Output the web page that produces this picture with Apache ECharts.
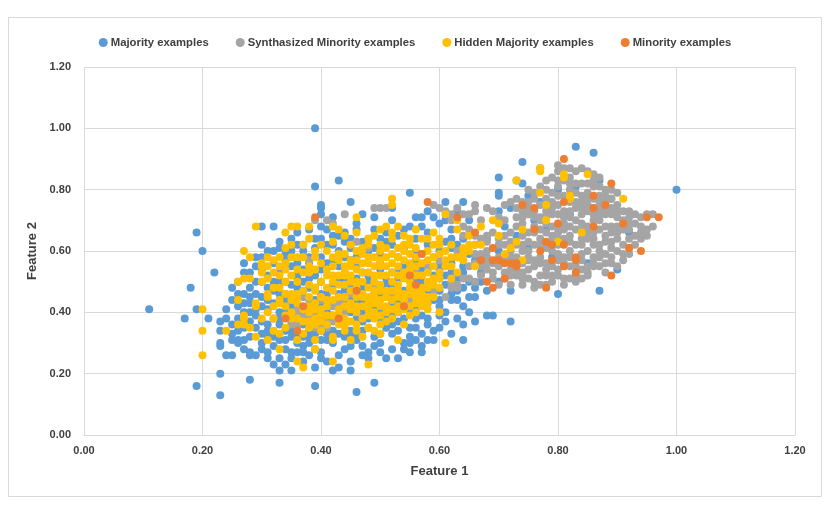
<!DOCTYPE html>
<html>
<head>
<meta charset="utf-8">
<script src="https://cdn.jsdelivr.net/npm/echarts/dist/echarts.min.js"></script>
<style>
  html, body { margin: 0; padding: 0; background: #fff; }
  #FeatureChart { width: 830px; height: 516px; }
</style>
</head>
<body>
<div id="FeatureChart"></div>
<script>
// values, [feature 1, feature 2]
var seriesNames = ['Majority examples', 'Synthasized Minority examples', 'Hidden Majority examples', 'Minority examples'];
var xTicks = ['0.00', '0.20', '0.40', '0.60', '0.80', '1.00', '1.20'];
var yTicks = ['0.00', '0.20', '0.40', '0.60', '0.80', '1.00', '1.20'];

var majority = [
    [0.42,0.71],[0.45,0.76],[0.49,0.71],[0.47,0.72],[0.40,0.72],[0.55,0.79],[0.52,0.74],[0.58,0.73],[0.61,0.76],[0.64,0.76],[0.57,0.71],
    [0.30,0.68],[0.32,0.68],[0.40,0.68],[0.49,0.67],[0.36,0.66],[0.38,0.67],[0.44,0.66],[0.46,0.67],[0.42,0.65],[0.43,0.65],[0.40,0.64],
    [0.51,0.66],[0.53,0.65],[0.55,0.68],[0.58,0.66],[0.60,0.69],[0.62,0.67],[0.48,0.64],[0.35,0.64],[0.56,0.64],
    [0.31,0.60],[0.32,0.60],[0.35,0.60],[0.34,0.59],[0.37,0.62],[0.39,0.61],[0.41,0.62],[0.43,0.60],[0.45,0.61],[0.47,0.63],[0.49,0.61],
    [0.50,0.59],[0.52,0.62],[0.54,0.61],[0.56,0.60],[0.58,0.62],[0.60,0.60],[0.62,0.61],[0.38,0.58],[0.44,0.58],[0.53,0.58],[0.63,0.58],
    [0.29,0.58],[0.33,0.61],
    [0.27,0.56],[0.28,0.53],[0.30,0.54],[0.32,0.56],[0.33,0.53],[0.35,0.55],[0.36,0.52],[0.38,0.56],[0.40,0.54],[0.42,0.57],[0.44,0.53],
    [0.46,0.55],[0.48,0.52],[0.50,0.56],[0.52,0.53],[0.54,0.55],[0.56,0.57],[0.58,0.54],[0.60,0.56],[0.62,0.53],[0.64,0.55],[0.66,0.57],
    [0.31,0.52],[0.37,0.54],[0.45,0.57],[0.57,0.52],
    [0.25,0.48],[0.27,0.46],[0.28,0.48],[0.29,0.46],[0.30,0.50],[0.31,0.48],[0.32,0.47],[0.33,0.50],[0.34,0.46],[0.35,0.49],[0.37,0.47],
    [0.38,0.51],[0.39,0.48],[0.41,0.46],[0.43,0.50],[0.44,0.47],[0.46,0.51],[0.47,0.48],[0.49,0.46],[0.51,0.49],[0.53,0.51],[0.55,0.47],
    [0.57,0.50],[0.59,0.47],[0.61,0.49],[0.63,0.47],[0.65,0.50],[0.26,0.50],[0.36,0.51],[0.52,0.46],[0.60,0.51],
    [0.24,0.41],[0.25,0.44],[0.26,0.42],[0.28,0.43],[0.29,0.41],[0.30,0.45],[0.31,0.41],[0.32,0.43],[0.33,0.40],[0.34,0.44],[0.35,0.42],
    [0.37,0.45],[0.38,0.41],[0.40,0.43],[0.41,0.40],[0.43,0.44],[0.44,0.41],[0.46,0.43],[0.47,0.40],[0.49,0.44],[0.50,0.41],[0.52,0.43],
    [0.53,0.40],[0.55,0.44],[0.56,0.41],[0.58,0.43],[0.60,0.42],[0.62,0.44],[0.64,0.42],[0.27,0.40],[0.36,0.40],[0.45,0.45],[0.57,0.45],
    [0.23,0.37],[0.23,0.34],[0.25,0.36],[0.26,0.38],[0.27,0.35],[0.29,0.39],[0.30,0.37],[0.31,0.34],[0.32,0.38],[0.33,0.36],[0.34,0.34],
    [0.35,0.39],[0.37,0.36],[0.38,0.34],[0.39,0.38],[0.41,0.35],[0.42,0.39],[0.44,0.36],[0.45,0.34],[0.46,0.38],[0.48,0.35],[0.50,0.38],
    [0.51,0.35],[0.53,0.37],[0.55,0.35],[0.56,0.38],[0.58,0.36],[0.60,0.39],[0.28,0.37],[0.40,0.34],[0.52,0.39],[0.47,0.37],
    [0.23,0.30],[0.23,0.29],[0.25,0.33],[0.26,0.31],[0.27,0.31],[0.26,0.30],[0.28,0.32],[0.30,0.30],[0.31,0.32],[0.32,0.29],[0.33,0.31],
    [0.34,0.28],[0.35,0.32],[0.36,0.30],[0.37,0.29],[0.38,0.32],[0.39,0.28],[0.40,0.31],[0.42,0.30],[0.43,0.33],[0.44,0.28],[0.46,0.31],
    [0.47,0.29],[0.49,0.32],[0.50,0.30],[0.52,0.33],[0.54,0.30],[0.56,0.31],[0.57,0.29],[0.58,0.31],[0.62,0.33],[0.64,0.31],[0.41,0.33],
    [0.45,0.33],
    [0.24,0.26],[0.25,0.26],[0.28,0.27],[0.28,0.26],[0.29,0.26],[0.33,0.21],[0.34,0.23],[0.35,0.21],[0.35,0.25],[0.37,0.24],[0.38,0.26],
    [0.41,0.24],[0.42,0.21],[0.43,0.22],[0.45,0.21],[0.45,0.24],[0.47,0.26],[0.48,0.25],[0.50,0.27],[0.51,0.25],[0.53,0.25],[0.55,0.27],
    [0.40,0.27],[0.36,0.27],[0.31,0.27],[0.23,0.20],[0.39,0.22],
    [0.19,0.16],[0.23,0.13],[0.28,0.18],[0.33,0.17],[0.39,0.16],[0.46,0.14],[0.49,0.17],[0.11,0.41],[0.17,0.38],[0.18,0.48],[0.19,0.66],
    [0.19,0.41],[0.20,0.60],[0.21,0.38],[0.22,0.53],[0.39,1.00],[0.39,0.81],[0.43,0.83],[0.40,0.75],[0.40,0.74],
    [0.66,0.37],[0.68,0.39],[0.69,0.39],[0.72,0.37],[0.66,0.45],[0.68,0.47],[0.70,0.50],[0.72,0.47],[0.74,0.52],[0.67,0.53],[0.70,0.60],
    [0.66,0.62],[0.68,0.64],[0.70,0.73],[0.70,0.78],[0.70,0.79],[0.73,0.83],[0.74,0.82],[0.74,0.89],[0.77,0.87],[0.70,0.84],[0.75,0.78],
    [0.77,0.76],[0.72,0.74],[0.76,0.70],[0.80,0.46],[0.87,0.47],[0.85,0.56],[0.90,0.54],[0.92,0.66],[0.89,0.77],[0.83,0.81],[0.87,0.83],
    [0.83,0.94],[0.86,0.92],[1.00,0.80],[0.80,0.80],[0.78,0.67],[0.82,0.72],[0.79,0.58],[0.75,0.61],[0.73,0.65],[0.71,0.68],[0.64,0.64],
    [0.65,0.70],[0.63,0.73],
    [0.26,0.34],[0.27,0.43],[0.28,0.45],[0.29,0.35],[0.29,0.50],[0.30,0.42],[0.30,0.33],[0.31,0.36],[0.31,0.44],[0.32,0.50],[0.32,0.32],
    [0.33,0.46],[0.33,0.38],[0.34,0.40],[0.34,0.31],[0.34,0.50],[0.35,0.44],[0.35,0.34],[0.36,0.48],[0.36,0.33],[0.36,0.56],[0.37,0.50],
    [0.37,0.32],[0.38,0.38],[0.38,0.48],[0.38,0.30],[0.39,0.44],[0.39,0.52],[0.39,0.33],[0.40,0.50],[0.40,0.46],[0.40,0.58],[0.41,0.31],
    [0.41,0.56],[0.42,0.34],[0.42,0.49],[0.42,0.62],[0.43,0.38],[0.43,0.46],[0.43,0.55],[0.44,0.32],[0.44,0.50],[0.44,0.63],[0.45,0.40],
    [0.45,0.48],[0.45,0.29],[0.46,0.33],[0.46,0.58],[0.47,0.44],[0.47,0.53],[0.47,0.34],[0.48,0.38],[0.48,0.50],[0.48,0.60],[0.49,0.29],
    [0.49,0.41],[0.50,0.33],[0.50,0.46],[0.50,0.54],[0.51,0.38],[0.51,0.51],[0.51,0.63],[0.52,0.36],[0.52,0.48],[0.53,0.34],[0.53,0.43],
    [0.53,0.53],[0.54,0.38],[0.54,0.47],[0.54,0.28],[0.55,0.41],[0.55,0.53],[0.55,0.32],[0.56,0.44],[0.56,0.35],[0.56,0.50],[0.57,0.39],
    [0.57,0.54],[0.57,0.33],[0.58,0.47],[0.58,0.38],[0.59,0.44],[0.59,0.52],[0.59,0.58],[0.59,0.34],[0.60,0.47],[0.60,0.54],[0.60,0.44],
    [0.61,0.40],[0.61,0.52],[0.61,0.63],[0.62,0.46],[0.62,0.56],[0.63,0.44],[0.63,0.51],[0.63,0.62],[0.64,0.48],[0.64,0.53],[0.65,0.45],
    [0.65,0.59],[0.66,0.48],[0.67,0.50],[0.60,0.35],[0.59,0.31],[0.61,0.37],[0.63,0.38],[0.65,0.40],[0.64,0.36],[0.55,0.30],[0.57,0.27],
    [0.52,0.28],[0.48,0.27],[0.43,0.26],[0.40,0.25],[0.37,0.27],[0.33,0.25],[0.31,0.25],[0.30,0.28],[0.27,0.28],[0.25,0.31],[0.24,0.38],
    [0.26,0.46],[0.28,0.40],[0.27,0.53],[0.29,0.55],[0.30,0.58],[0.30,0.62],[0.33,0.63],[0.34,0.57],[0.36,0.62],[0.37,0.60],[0.39,0.64],
    [0.41,0.67],[0.45,0.64],[0.46,0.69],[0.50,0.64],[0.52,0.70],[0.54,0.67],[0.56,0.71],[0.57,0.68],[0.59,0.71],[0.61,0.70],[0.62,0.64],
    [0.35,0.27],[0.32,0.23]
];

var synthesized = [
    [0.35,0.37],[0.35,0.36],[0.36,0.40],[0.36,0.36],[0.37,0.39],[0.37,0.40],[0.38,0.39],[0.39,0.40],[0.40,0.39],[0.41,0.38],[0.39,0.35],
    [0.41,0.35],[0.40,0.36],[0.42,0.42],[0.43,0.43],[0.44,0.44],[0.45,0.46],[0.40,0.44],[0.38,0.44],[0.37,0.45],[0.38,0.57],[0.36,0.41],
    [0.42,0.37],[0.44,0.40],
    [0.39,0.70],[0.41,0.70],[0.42,0.69],[0.44,0.72],[0.49,0.74],[0.50,0.74],[0.51,0.74],[0.46,0.63],[0.48,0.61],[0.49,0.49],[0.48,0.44],
    [0.50,0.47],[0.52,0.46],[0.53,0.47],[0.51,0.45],[0.55,0.44],[0.57,0.46],[0.59,0.47],[0.61,0.45],[0.62,0.48],[0.63,0.49],[0.62,0.50],
    [0.63,0.60],[0.59,0.75],[0.60,0.74],[0.61,0.73],[0.62,0.72],[0.58,0.55],[0.56,0.54],[0.60,0.57],
    [0.62,0.70],[0.64,0.68],[0.64,0.65],[0.65,0.67],[0.66,0.65],[0.67,0.64],[0.68,0.63],[0.70,0.62],[0.71,0.62],[0.67,0.59],[0.68,0.60],
    [0.65,0.55],[0.66,0.56],[0.65,0.51],[0.64,0.51],[0.63,0.48],[0.66,0.50],[0.67,0.52],[0.68,0.54],[0.69,0.53],[0.70,0.55],[0.71,0.53],
    [0.72,0.54],[0.73,0.54],[0.74,0.53],[0.69,0.51],[0.70,0.49],[0.72,0.49],[0.66,0.75],[0.66,0.73],[0.68,0.74],[0.69,0.73],[0.71,0.75],
    [0.72,0.76],[0.73,0.77],[0.70,0.64],[0.69,0.66],[0.68,0.58],[0.69,0.56],[0.67,0.55],[0.64,0.57],[0.66,0.59],
    [0.75,0.51],[0.76,0.50],[0.77,0.49],[0.78,0.49],[0.79,0.50],[0.81,0.49],[0.82,0.51],[0.84,0.51],[0.80,0.52],[0.74,0.49],[0.76,0.48],
    [0.83,0.50],[0.85,0.52],[0.78,0.52],
    [0.75,0.57],[0.76,0.55],[0.77,0.56],[0.78,0.54],[0.79,0.55],[0.80,0.57],[0.81,0.58],[0.82,0.55],[0.84,0.54],[0.85,0.53],[0.86,0.55],
    [0.86,0.56],[0.87,0.58],[0.88,0.53],[0.89,0.58],[0.90,0.55],[0.84,0.57],[0.75,0.54],[0.77,0.58],[0.80,0.54],[0.88,0.56],[0.91,0.57],
    [0.74,0.60],[0.75,0.60],[0.76,0.62],[0.77,0.64],[0.78,0.61],[0.80,0.59],[0.80,0.62],[0.82,0.60],[0.83,0.62],[0.84,0.64],[0.85,0.60],
    [0.86,0.62],[0.87,0.60],[0.88,0.63],[0.89,0.61],[0.90,0.64],[0.91,0.59],[0.92,0.61],[0.93,0.62],[0.94,0.64],[0.72,0.60],[0.73,0.62],
    [0.79,0.63],[0.81,0.64],[0.86,0.64],[0.91,0.62],
    [0.72,0.66],[0.73,0.68],[0.74,0.69],[0.75,0.66],[0.76,0.68],[0.77,0.70],[0.78,0.66],[0.79,0.68],[0.80,0.66],[0.81,0.69],[0.82,0.65],
    [0.83,0.67],[0.84,0.69],[0.85,0.66],[0.86,0.70],[0.87,0.67],[0.88,0.65],[0.89,0.68],[0.90,0.66],[0.91,0.70],[0.92,0.67],[0.93,0.69],
    [0.94,0.66],[0.95,0.67],[0.96,0.68],[0.87,0.70],[0.79,0.65],[0.83,0.70],
    [0.73,0.71],[0.74,0.73],[0.75,0.72],[0.76,0.71],[0.77,0.71],[0.78,0.73],[0.79,0.74],[0.80,0.72],[0.81,0.73],[0.82,0.71],[0.83,0.74],
    [0.84,0.72],[0.85,0.73],[0.85,0.75],[0.86,0.72],[0.87,0.74],[0.88,0.72],[0.89,0.74],[0.90,0.71],[0.91,0.73],[0.92,0.73],[0.93,0.72],
    [0.95,0.72],[0.96,0.72],[0.83,0.76],[0.80,0.75],[0.77,0.75],[0.88,0.76],[0.90,0.75],
    [0.75,0.80],[0.76,0.79],[0.77,0.81],[0.78,0.83],[0.79,0.84],[0.79,0.79],[0.80,0.88],[0.80,0.81],[0.81,0.87],[0.82,0.87],[0.82,0.80],
    [0.83,0.79],[0.83,0.86],[0.84,0.87],[0.84,0.82],[0.85,0.86],[0.85,0.79],[0.86,0.85],[0.86,0.81],[0.87,0.78],[0.88,0.80],[0.88,0.78],
    [0.89,0.80],[0.90,0.79],[0.81,0.83],[0.84,0.78],[0.87,0.84],
    [0.74,0.51],[0.77,0.52],[0.79,0.52],[0.81,0.51],[0.83,0.52],[0.74,0.56],[0.76,0.57],[0.78,0.56],[0.81,0.56],[0.83,0.55],[0.85,0.55],
    [0.87,0.55],[0.89,0.56],[0.73,0.58],[0.75,0.58],[0.79,0.60],[0.82,0.58],[0.84,0.59],[0.86,0.58],[0.88,0.59],[0.90,0.60],[0.92,0.59],
    [0.74,0.62],[0.75,0.63],[0.77,0.62],[0.80,0.64],[0.82,0.63],[0.84,0.62],[0.85,0.64],[0.87,0.62],[0.89,0.63],[0.92,0.64],[0.93,0.65],
    [0.74,0.65],[0.76,0.66],[0.77,0.67],[0.78,0.69],[0.80,0.68],[0.81,0.67],[0.82,0.68],[0.84,0.67],[0.85,0.68],[0.86,0.66],[0.88,0.68],
    [0.89,0.66],[0.90,0.68],[0.91,0.67],[0.92,0.69],[0.94,0.68],[0.95,0.65],[0.74,0.71],[0.75,0.74],[0.76,0.73],[0.78,0.71],[0.79,0.72],
    [0.81,0.71],[0.82,0.73],[0.84,0.74],[0.86,0.74],[0.87,0.72],[0.88,0.74],[0.89,0.72],[0.90,0.73],[0.92,0.71],[0.94,0.71],[0.76,0.77],
    [0.78,0.77],[0.79,0.76],[0.81,0.78],[0.82,0.76],[0.84,0.76],[0.85,0.77],[0.86,0.77],[0.87,0.76],[0.89,0.77],[0.80,0.78],[0.78,0.80],
    [0.80,0.83],[0.82,0.84],[0.83,0.82],[0.85,0.82],[0.86,0.83],[0.87,0.81],[0.82,0.82],[0.80,0.86],[0.68,0.56],[0.71,0.57],[0.72,0.58],
    [0.70,0.58],[0.71,0.51],[0.73,0.52],[0.72,0.52],[0.68,0.65],[0.71,0.65],[0.72,0.63],[0.71,0.70],[0.70,0.71],[0.73,0.74],[0.74,0.76],
    [0.75,0.76],[0.67,0.70],[0.65,0.72],[0.63,0.74],[0.64,0.72]
];

var hiddenMajority = [
    [0.20,0.41],[0.20,0.34],[0.20,0.26],[0.24,0.34],[0.26,0.44],[0.26,0.36],[0.27,0.36],[0.27,0.38],[0.27,0.39],[0.29,0.32],[0.31,0.31],
    [0.33,0.28],[0.36,0.24],[0.37,0.22],[0.39,0.28],[0.42,0.24],[0.48,0.23],[0.53,0.31],[0.61,0.30],[0.60,0.40],[0.29,0.68],[0.34,0.66],
    [0.35,0.68],[0.36,0.68],[0.38,0.68],[0.42,0.68],[0.43,0.67],[0.46,0.71],[0.51,0.68],[0.53,0.68],[0.52,0.77],[0.52,0.75],[0.61,0.72],
    [0.63,0.70],
    [0.26,0.50],[0.27,0.51],[0.28,0.51],[0.30,0.50],[0.27,0.60],[0.28,0.58],[0.30,0.56],[0.30,0.55],[0.31,0.55],[0.32,0.57],[0.33,0.55],
    [0.34,0.54],[0.31,0.46],[0.31,0.45],[0.29,0.43],[0.29,0.42],[0.32,0.42],[0.33,0.43],[0.34,0.42],[0.32,0.38],[0.32,0.34],[0.34,0.35],
    [0.35,0.38],[0.38,0.35],[0.40,0.34],[0.42,0.32],[0.42,0.31],[0.44,0.34],[0.47,0.32],[0.48,0.35],[0.37,0.62],[0.40,0.62],[0.35,0.58],
    [0.36,0.58],[0.37,0.58],[0.39,0.58],[0.41,0.60],[0.42,0.58],[0.43,0.59],[0.44,0.59],[0.48,0.64],[0.48,0.62],[0.48,0.58],[0.45,0.57],
    [0.34,0.46],[0.35,0.46],[0.36,0.46],[0.38,0.45],[0.39,0.47],[0.39,0.48],[0.41,0.52],[0.42,0.52],[0.43,0.52],[0.44,0.52],[0.44,0.53],
    [0.41,0.48],[0.44,0.45],[0.46,0.45],[0.47,0.45],[0.48,0.45],[0.49,0.52],[0.50,0.52],[0.48,0.53],[0.36,0.43],[0.37,0.41],[0.38,0.42],
    [0.39,0.43],[0.40,0.41],[0.41,0.42],[0.42,0.44],[0.43,0.41],[0.44,0.42],[0.45,0.43],[0.46,0.40],[0.47,0.42],[0.48,0.41],[0.49,0.43],
    [0.50,0.44],[0.51,0.42],[0.52,0.44],[0.53,0.45],[0.54,0.44],[0.55,0.46],[0.56,0.45],[0.57,0.44],[0.58,0.45],[0.35,0.40],[0.37,0.37],
    [0.39,0.38],[0.40,0.37],[0.41,0.36],[0.43,0.36],[0.44,0.38],[0.45,0.37],[0.46,0.36],[0.49,0.38],[0.50,0.36],[0.52,0.38],[0.53,0.40],
    [0.55,0.39],[0.56,0.40],[0.58,0.41],[0.42,0.47],[0.43,0.49],[0.45,0.50],[0.46,0.48],[0.47,0.50],[0.49,0.47],[0.50,0.49],[0.51,0.47],
    [0.52,0.50],[0.53,0.49],[0.54,0.51],[0.55,0.50],[0.56,0.52],[0.57,0.48],[0.58,0.50],[0.59,0.49],[0.60,0.51],[0.45,0.55],[0.46,0.54],
    [0.47,0.56],[0.49,0.55],[0.50,0.57],[0.51,0.55],[0.52,0.56],[0.53,0.55],[0.54,0.57],[0.55,0.56],[0.56,0.58],[0.57,0.56],[0.58,0.57],
    [0.59,0.55],[0.50,0.60],[0.51,0.61],[0.52,0.59],[0.53,0.61],[0.54,0.60],[0.55,0.62],[0.56,0.61],[0.58,0.60],[0.59,0.62],[0.60,0.59],
    [0.46,0.60],[0.47,0.59],[0.49,0.65],[0.54,0.65],[0.57,0.64],[0.59,0.66],[0.56,0.67],[0.60,0.64],[0.61,0.57],[0.61,0.60],[0.62,0.58],
    [0.63,0.58],[0.64,0.61],[0.64,0.57],[0.63,0.53],[0.62,0.51],[0.61,0.55],[0.66,0.62],[0.67,0.62],[0.65,0.65],[0.63,0.67],[0.66,0.55],
    [0.67,0.68],[0.69,0.70],[0.70,0.69],[0.70,0.65],[0.73,0.63],[0.72,0.61],[0.71,0.59],[0.74,0.57],[0.74,0.67],[0.78,0.75],[0.78,0.70],
    [0.77,0.79],[0.77,0.87],[0.77,0.86],[0.73,0.83],[0.81,0.85],[0.81,0.84],[0.85,0.85],[0.82,0.78],[0.82,0.77],[0.84,0.66],[0.80,0.63],
    [0.91,0.77],
    [0.33,0.44],[0.33,0.48],[0.34,0.50],[0.35,0.44],[0.35,0.52],[0.36,0.38],[0.36,0.50],[0.37,0.47],[0.37,0.53],[0.38,0.40],[0.38,0.49],
    [0.38,0.53],[0.39,0.36],[0.39,0.41],[0.39,0.54],[0.40,0.39],[0.40,0.45],[0.40,0.50],[0.40,0.56],[0.41,0.44],[0.41,0.54],[0.42,0.39],
    [0.42,0.50],[0.42,0.55],[0.43,0.39],[0.43,0.45],[0.43,0.57],[0.44,0.49],[0.44,0.55],[0.45,0.41],[0.45,0.47],[0.45,0.52],[0.46,0.42],
    [0.46,0.50],[0.46,0.57],[0.47,0.38],[0.47,0.46],[0.47,0.53],[0.48,0.39],[0.48,0.43],[0.48,0.48],[0.48,0.56],[0.49,0.40],[0.49,0.45],
    [0.49,0.50],[0.49,0.58],[0.50,0.39],[0.50,0.42],[0.50,0.47],[0.50,0.55],[0.51,0.40],[0.51,0.45],[0.51,0.52],[0.51,0.58],[0.52,0.41],
    [0.52,0.47],[0.52,0.53],[0.53,0.42],[0.53,0.47],[0.53,0.52],[0.53,0.58],[0.54,0.41],[0.54,0.46],[0.54,0.53],[0.54,0.62],[0.55,0.42],
    [0.55,0.48],[0.55,0.54],[0.55,0.59],[0.56,0.43],[0.56,0.47],[0.56,0.55],[0.57,0.42],[0.57,0.46],[0.57,0.52],[0.57,0.59],[0.58,0.43],
    [0.58,0.48],[0.58,0.53],[0.59,0.45],[0.59,0.51],[0.59,0.58],[0.60,0.48],[0.60,0.53],[0.60,0.62],[0.34,0.39],[0.36,0.45],[0.38,0.37],
    [0.41,0.39],[0.44,0.36],[0.46,0.34],[0.49,0.34],[0.51,0.37],[0.54,0.36],[0.32,0.48],[0.31,0.51],[0.33,0.52],[0.30,0.53],[0.32,0.53],
    [0.35,0.62],[0.39,0.60],[0.45,0.62],[0.47,0.61],[0.50,0.62],[0.52,0.64],[0.55,0.64],[0.58,0.64],[0.62,0.62],[0.62,0.55],[0.64,0.59],
    [0.65,0.60],[0.65,0.62],[0.38,0.64],[0.42,0.63],[0.44,0.65],[0.46,0.66],[0.50,0.67],[0.52,0.66],[0.31,0.40],[0.30,0.38],[0.28,0.35],
    [0.33,0.33],[0.36,0.31],[0.39,0.31],[0.45,0.31],[0.50,0.33],[0.37,0.33],[0.36,0.54],[0.38,0.55],[0.34,0.56],[0.33,0.58],[0.31,0.58],
    [0.34,0.61]
];

var minority = [
    [0.34,0.38],[0.36,0.34],[0.37,0.42],[0.39,0.71],[0.43,0.38],[0.46,0.47],[0.54,0.42],[0.55,0.52],[0.56,0.49],[0.57,0.59],[0.58,0.76],
    [0.63,0.71],[0.66,0.66],[0.67,0.57],[0.68,0.50],[0.69,0.61],[0.69,0.57],[0.69,0.48],[0.70,0.57],[0.71,0.56],[0.71,0.51],[0.72,0.56],
    [0.73,0.55],[0.73,0.56],[0.74,0.75],[0.76,0.74],[0.76,0.67],[0.77,0.60],[0.78,0.63],[0.78,0.48],[0.79,0.62],[0.79,0.57],[0.80,0.69],
    [0.81,0.90],[0.81,0.76],[0.81,0.62],[0.81,0.55],[0.83,0.58],[0.83,0.57],[0.83,0.53],[0.86,0.78],[0.86,0.74],[0.86,0.68],[0.88,0.75],
    [0.89,0.82],[0.89,0.52],[0.91,0.69],[0.92,0.61],[0.94,0.60],[0.95,0.71],[0.97,0.71]
];

var FeatureChart = echarts.init(document.getElementById('FeatureChart'));
var fontFamily = '"Liberation Sans Narrow", "Liberation Sans", sans-serif';
var colors = ['#5B9BD5', '#A5A5A5', '#FFC000', '#ED7D31'];
var allData = [majority, synthesized, hiddenMajority, minority];

var seriesList = [];
for (var i = 0; i < seriesNames.length; i++) {
    seriesList.push({
        name: seriesNames[i],
        type: 'scatter',
        symbol: 'circle',
        symbolSize: 8,
        itemStyle: { color: colors[i], opacity: 1 },
        data: allData[i]
    });
}

var optionFeature = {
    animation: false,
    backgroundColor: '#fff',
    color: colors,
    graphic: [
        {
            type: 'rect',
            shape: { x: 8.5, y: 17.5, width: 813, height: 479 },
            style: { fill: 'none', stroke: '#D9D9D9', lineWidth: 1 },
            silent: true
        }
    ],
    legend: {
        top: 32,
        left: 'center',
        icon: 'circle',
        itemWidth: 9,
        itemHeight: 9,
        itemGap: 27,
        textStyle: {
            fontFamily: fontFamily,
            fontWeight: 'bold',
            fontSize: 11.3,
            color: '#404040',
            padding: [0, 0, 0, -2]
        },
        data: seriesNames
    },
    grid: {
        left: 84,
        right: 35,
        top: 67,
        bottom: 81
    },
    xAxis: {
        type: 'value',
        min: 0,
        max: 1.2,
        interval: 0.2,
        name: 'Feature 1',
        nameLocation: 'middle',
        nameGap: 30,
        nameTextStyle: { fontFamily: fontFamily, fontWeight: 'bold', fontSize: 13, color: '#404040' },
        axisLine: { show: true, lineStyle: { color: '#D9D9D9' } },
        axisTick: { show: false },
        axisLabel: {
            fontFamily: fontFamily, fontWeight: 'bold', fontSize: 11, color: '#404040', margin: 10,
            formatter: function (v) { return xTicks[Math.round(v / 0.2)]; }
        },
        splitLine: { show: true, lineStyle: { color: '#D9D9D9' } }
    },
    yAxis: {
        type: 'value',
        min: 0,
        max: 1.2,
        interval: 0.2,
        name: 'Feature 2',
        nameLocation: 'middle',
        nameGap: 39,
        nameRotate: 90,
        nameTextStyle: { fontFamily: fontFamily, fontWeight: 'bold', fontSize: 13, color: '#404040' },
        axisLine: { show: false },
        axisTick: { show: false },
        axisLabel: {
            fontFamily: fontFamily, fontWeight: 'bold', fontSize: 11, color: '#404040', margin: 13,
            formatter: function (v) { return yTicks[Math.round(v / 0.2)]; }
        },
        splitLine: { show: true, lineStyle: { color: '#D9D9D9' } }
    },
    series: seriesList
};
FeatureChart.setOption(optionFeature);
</script>
</body>
</html>
